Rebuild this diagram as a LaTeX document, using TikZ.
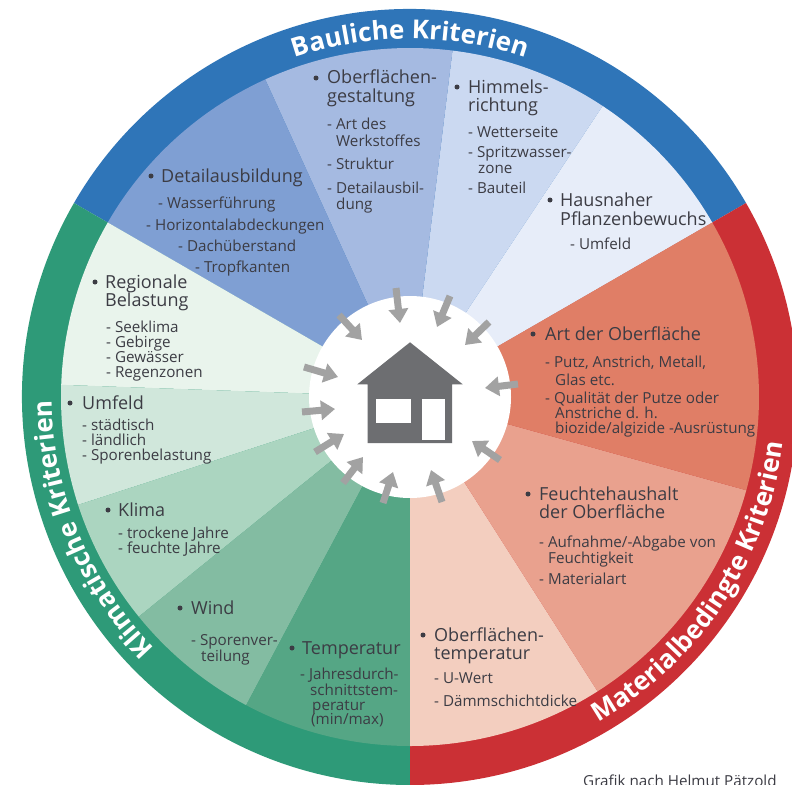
\documentclass[tikz,border=0pt]{standalone}
\usepackage{fontspec}
\setmainfont{Open Sans}
\newfontfamily\ringfont{Open Sans Bold}
\usetikzlibrary{arrows.meta,decorations.text}
\definecolor{ringblue}{HTML}{2F75B8}
\definecolor{ringred}{HTML}{CB3035}
\definecolor{ringgreen}{HTML}{2E9A78}
\definecolor{bA}{HTML}{7F9FD3}
\definecolor{bB}{HTML}{A5BAE1}
\definecolor{bC}{HTML}{CBD9F1}
\definecolor{bD}{HTML}{E7EDF9}
\definecolor{rA}{HTML}{E07E66}
\definecolor{rB}{HTML}{E9A18E}
\definecolor{rC}{HTML}{F3CEBF}
\definecolor{gA}{HTML}{E9F4EC}
\definecolor{gB}{HTML}{D0E7DB}
\definecolor{gC}{HTML}{ABD5C0}
\definecolor{gD}{HTML}{83BCA2}
\definecolor{gE}{HTML}{55A685}
\definecolor{txt}{HTML}{3C3C44}
\definecolor{house}{HTML}{6D6E71}
\definecolor{arrowgrey}{HTML}{A2A2A2}
\tikzset{
  head/.style={anchor=base west,inner sep=0pt,text=txt,font=\fontsize{18}{20}\selectfont},
  item/.style={anchor=base west,inner sep=0pt,text=txt,font=\fontsize{15.2}{17}\selectfont},
  credit/.style={anchor=base west,inner sep=0pt,text=txt,font=\fontsize{15.2}{17}\selectfont},
  inarrow/.style={draw=arrowgrey,line width=7pt,-{Triangle[length=14pt,width=19pt]}},
  bullet/.style={fill=txt,circle,inner sep=0pt,minimum size=5pt}
}
\newcounter{tcnt}
\newcommand{\hdb}[4]{\stepcounter{tcnt}\node[bullet] (b\arabic{tcnt}) at (#1,-#3+5) {};\node[head] (t\arabic{tcnt}) at (#2,-#3-1) {#4};}
\newcommand{\hdl}[3]{\stepcounter{tcnt}\node[head] (t\arabic{tcnt}) at (#1,-#2-1) {#3};}
\newcommand{\itm}[3]{\stepcounter{tcnt}\node[item] (t\arabic{tcnt}) at (#1,-#2-1) {#3};}
\newcommand{\sector}[4]{\fill[#4] (410,-397) -- ++(#1:#3) arc[start angle=#1,end angle=#2,radius=#3] -- cycle;}
\newcommand{\ringtext}[5]{\path[decorate,decoration={text along path,text align=center,text={|\ringfont\fontsize{#5}{#5}\selectfont\color{white}|#4}}] (410,-397) ++(#1:#3) arc[start angle=#1,end angle=#2,radius=#3];}
\begin{document}
\begin{tikzpicture}[x=1pt,y=1pt]
\useasboundingbox (0,0) rectangle (792,-784);
\clip (0,0) rectangle (792,-784);
% ring
\sector{30}{150}{388}{ringblue}
\sector{150}{270}{388}{ringgreen}
\sector{270}{390}{388}{ringred}
% blue sectors
\sector{30}{56.5}{349}{bD}
\sector{56.5}{83}{349}{bC}
\sector{83}{114.5}{349}{bB}
\sector{114.5}{150}{349}{bA}
% green sectors
\sector{150}{178}{349}{gA}
\sector{178}{198}{349}{gB}
\sector{198}{219}{349}{gC}
\sector{219}{242}{349}{gD}
\sector{242}{270}{349}{gE}
% red sectors
\sector{270}{302.5}{349}{rC}
\sector{302.5}{344.5}{349}{rB}
\sector{344.5}{390}{349}{rA}
% centre
\fill[white] (410,-397) circle[radius=101];
% house
\fill[house] (410,-342.3) -- (462.7,-384.3) -- (452,-384.3) -- (452,-443) -- (367.7,-443) -- (367.7,-384.3) -- (357.3,-384.3) -- cycle;
\fill[white] (375.7,-399.3) rectangle (411.3,-423);
\fill[white] (422,-399.3) rectangle (445.3,-440);
% arrows
\coordinate (a1s) at (396,-288); \coordinate (a1e) at (400,-323);
\coordinate (a2s) at (450,-296); \coordinate (a2e) at (437,-327);
\coordinate (a3s) at (489,-322); \coordinate (a3e) at (465,-345);
\coordinate (a4s) at (518,-384); \coordinate (a4e) at (485,-388);
\coordinate (a5s) at (500,-460); \coordinate (a5e) at (472,-441);
\coordinate (a6s) at (442,-502); \coordinate (a6e) at (431,-470);
\coordinate (a7s) at (383,-503); \coordinate (a7e) at (393,-472);
\coordinate (a8s) at (343,-483); \coordinate (a8e) at (363,-457);
\coordinate (a9s) at (315,-452); \coordinate (a9e) at (344,-434);
\coordinate (a10s) at (302,-412); \coordinate (a10e) at (335,-409);
\coordinate (a11s) at (304,-367); \coordinate (a11e) at (338,-377);
\coordinate (a12s) at (339,-315); \coordinate (a12e) at (362,-340);
\foreach \i in {1,...,12}{\draw[inarrow] (a\i s) -- (a\i e);}
% ring labels
\ringtext{150}{30}{358}{Bauliche Kriterien}{26}
\ringtext{-100}{33}{376}{Materialbedingte Kriterien}{26}
\ringtext{255}{150}{358}{Klimatische Kriterien}{26}
% blue texts
\hdb{316}{327}{83}{Oberflächen-}
\hdl{327}{101}{gestaltung}
\itm{327}{128}{- Art des}
\itm{336}{145}{Werkstoffes}
\itm{327}{168}{- Struktur}
\itm{327}{192}{- Detailausbil-}
\itm{336}{208}{dung}
\hdb{457}{468}{92}{Himmels-}
\hdl{468}{110}{richtung}
\itm{468}{136}{- Wetterseite}
\itm{468}{156}{- Spritzwasser-}
\itm{478}{172}{zone}
\itm{468}{192}{- Bauteil}
\hdb{550}{560}{205}{Hausnaher}
\hdl{560}{224}{Pflanzenbewuchs}
\itm{570}{248}{- Umfeld}
\hdb{151}{161}{181}{Detailausbildung}
\itm{158}{207}{- Wasserführung}
\itm{146}{229}{- Horizontalabdeckungen}
\itm{178}{250}{- Dachüberstand}
\itm{195}{271}{- Tropfkanten}
% green texts
\hdb{95}{105}{287}{Regionale}
\hdl{105}{305}{Belastung}
\itm{106}{331}{- Seeklima}
\itm{106}{346}{- Gebirge}
\itm{106}{361}{- Gewässer}
\itm{106}{376}{- Regenzonen}
\hdb{70}{82}{408}{Umfeld}
\itm{82}{429}{- städtisch}
\itm{82}{444}{- ländlich}
\itm{82}{459}{- Sporenbelastung}
\hdb{108}{118}{515}{Klima}
\itm{118}{537}{- trockene Jahre}
\itm{118}{552}{- feuchte Jahre}
\hdb{180}{191}{613}{Wind}
\itm{191}{644}{- Sporenver-}
\itm{201}{660}{teilung}
\hdb{292}{302}{653}{Temperatur}
\itm{300}{678}{- Jahresdurch-}
\itm{310}{694}{schnittstem-}
\itm{312}{709}{peratur}
\itm{311}{723}{(min/max)}
% red texts
\hdb{533}{545}{339}{Art der Oberfläche}
\itm{545}{366}{- Putz, Anstrich, Metall,}
\itm{555}{384}{Glas etc.}
\itm{545}{402}{- Qualität der Putze oder}
\itm{555}{417}{Anstriche d. h.}
\itm{555}{432}{biozide/algizide -Ausrüstung}
\hdb{528}{539}{499}{Feuchtehaushalt}
\hdl{539}{517}{der Oberfläche}
\itm{539}{546}{- Aufnahme/-Abgabe von}
\itm{548}{562}{Feuchtigkeit}
\itm{539}{583}{- Materialart}
\hdb{423}{434}{640}{Oberflächen-}
\hdl{434}{658}{temperatur}
\itm{434}{682}{- U-Wert}
\itm{434}{705}{- Dämmschichtdicke}
% credit
\node[credit] (cr) at (583,-786) {Grafik nach Helmut Pätzold};
\end{tikzpicture}
\end{document}
